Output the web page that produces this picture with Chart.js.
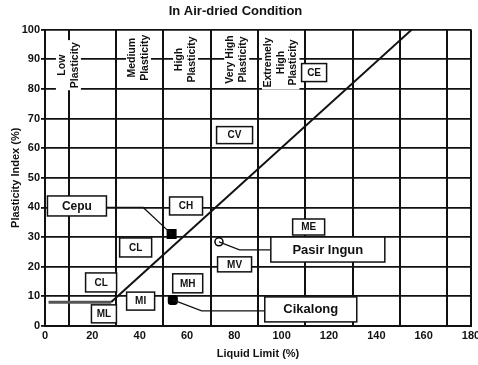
<!DOCTYPE html>
<html><head><meta charset="utf-8">
<script src="https://cdn.jsdelivr.net/npm/chart.js@4/dist/chart.umd.min.js"></script>
<style>html,body{margin:0;padding:0;background:#fff}canvas{display:block}</style>
</head><body>
<canvas id="c" width="478" height="365"></canvas>
<script>
// ---- data ----
const xTickLabels = [0,20,40,60,80,100,120,140,160,180];
const yTickLabels = [0,10,20,30,40,50,60,70,80,90,100];
const xGridLines = [10,30,50,70,90,110,130,150,170,180];
const aLineLL = [28,155];
const aLinePI = [8.1,100];
const bandLL = [1.5,28];
const bandPI = [8,8];
const sampleNames = ['Cepu','Pasir Ingun','Cikalong'];
const sampleLL = [53.5,73.5,54];
const samplePI = [31,28.4,8.8];
const leaderLL = [[26,41.5,53.5],[73.5,82.2,95.3],[54,66.2,92.8]];
const leaderPI = [[40,40,31],[28.4,25.7,25.7],[8.8,5.1,5.1]];
const sampleLabelLL = [13.5,119.5,112.3];
const sampleLabelPI = [40.5,25.8,5.6];
const classNames = ['CE','CV','CH','ME','CL','MV','CL','MH','MI','ML'];
const classLL = [113.7,80.1,59.6,111.4,38.3,80.1,23.7,60.3,40.4,24.9];
const classPI = [85.5,64.4,40.5,33.4,26.5,20.8,14.7,14.4,8.4,4.1];
const zoneNames = [['Low','Plasticity'],['Medium','Plasticity'],['High','Plasticity'],['Very High','Plasticity'],['Extremely','High','Plasticity']];
const zoneLL = [9.9,39.5,59.4,81,99.6];
const zonePI = [88,90.5,89.9,89.9,88.9];

// ---- styles ----
const INK = '#111';
const FONT = '"Liberation Sans", Arial, sans-serif';
const classBoxW = [25,36,33,32,32,34,31,30,28,25];
const classBoxH = [18,17,18,16,19,15,19,19,18,18];
const sampleBoxW = [59,114,92];
const sampleBoxH = [20,25,25];
const sampleFont = [12,13,13];
const markerStyle = ['rect','circle','rectRounded'];
const markerFill = ['#000','#fff','#000'];
const markerRadius = [6,4,5];

Chart.defaults.font.family = FONT;
Chart.defaults.color = INK;

const pts = (xs, ys) => xs.map((x,i)=>({x, y: ys[i]}));

const datasets = [
  {data: pts(aLineLL, aLinePI), showLine:true, borderColor:INK, borderWidth:2, pointRadius:0},
  {data: pts(bandLL, bandPI), showLine:true, borderColor:'#555', borderWidth:3, pointRadius:0},
];
leaderLL.forEach((l,i)=>datasets.push({data: pts(l, leaderPI[i]), showLine:true, borderColor:INK, borderWidth:1.2, pointRadius:0}));
datasets.push({
  data: pts(sampleLL, samplePI), showLine:false,
  pointStyle: markerStyle, pointRadius: markerRadius,
  pointBackgroundColor: markerFill, pointBorderColor: '#000', pointBorderWidth: 1.5
});

function drawBox(ctx, cx, cy, w, h, text, size){
  ctx.fillStyle = '#fff';
  ctx.fillRect(cx-w/2, cy-h/2, w, h);
  ctx.strokeStyle = INK; ctx.lineWidth = 1.5;
  ctx.strokeRect(cx-w/2, cy-h/2, w, h);
  ctx.fillStyle = INK;
  ctx.font = 'bold '+size+'px '+FONT;
  ctx.textAlign = 'center'; ctx.textBaseline = 'middle';
  ctx.fillText(text, cx, cy+0.5);
}

const labelsPlugin = {
  id:'labels',
  afterDatasetsDraw(chart){
    const {ctx, scales:{x,y}} = chart;
    ctx.save();
    const zs = 10.5, lh = 12.5;
    zoneNames.forEach((lines,i)=>{
      const cx = x.getPixelForValue(zoneLL[i]), cy = y.getPixelForValue(zonePI[i]);
      ctx.save();
      ctx.translate(cx, cy);
      ctx.rotate(-Math.PI/2);
      ctx.font = 'bold '+zs+'px '+FONT;
      const w = Math.max(...lines.map(t=>ctx.measureText(t).width));
      const h = lines.length*lh;
      ctx.fillStyle = '#fff';
      ctx.fillRect(-w/2-2, -h/2, w+4, h);
      ctx.fillStyle = INK; ctx.textAlign='center'; ctx.textBaseline='middle';
      lines.forEach((t,k)=>ctx.fillText(t, 0, (k-(lines.length-1)/2)*lh));
      ctx.restore();
    });
    classNames.forEach((t,i)=>{
      drawBox(ctx, x.getPixelForValue(classLL[i]), y.getPixelForValue(classPI[i]), classBoxW[i], classBoxH[i], t, 10);
    });
    sampleNames.forEach((t,i)=>{
      drawBox(ctx, x.getPixelForValue(sampleLabelLL[i]), y.getPixelForValue(sampleLabelPI[i]), sampleBoxW[i], sampleBoxH[i], t, sampleFont[i]);
    });
    ctx.restore();
  }
};

new Chart(document.getElementById('c'), {
  type:'scatter',
  data:{datasets},
  plugins:[labelsPlugin],
  options:{
    responsive:false, animation:false, devicePixelRatio:1,
    layout:{autoPadding:false, padding:{left:0,right:7,top:0,bottom:0}},
    plugins:{
      legend:{display:false}, tooltip:{enabled:false},
      title:{display:true, text:'In Air-dried Condition', color:INK, font:{size:13, weight:'bold'}, padding:{top:4,bottom:10}}
    },
    scales:{
      x:{
        type:'linear', min:0, max:180,
        afterFit(s){ s.height = 39; s.paddingLeft = 0; s.paddingRight = 0; },
        ticks:{stepSize:10, autoSkip:false, maxRotation:0, padding:3, color:INK, font:{size:11, weight:'bold'},
          callback:v => xTickLabels.includes(v) ? String(v) : ''},
        grid:{drawTicks:false, lineWidth:2, color:c => (c.tick && xGridLines.includes(c.tick.value)) ? INK : 'rgba(0,0,0,0)'},
        border:{display:true, color:INK, width:2},
        title:{display:true, text:'Liquid Limit (%)', color:INK, font:{size:11, weight:'bold'}, padding:{top:0,bottom:4.4}}
      },
      y:{
        type:'linear', min:0, max:100,
        afterFit(s){ s.width = 45; s.paddingTop = 0; s.paddingBottom = 0; },
        afterBuildTicks(s){ s.ticks = yTickLabels.map(v=>({value:v})); },
        ticks:{padding:1, color:INK, font:{size:11, weight:'bold'}},
        grid:{color:INK, lineWidth:1.8, tickLength:4},
        border:{display:true, color:INK, width:2},
        title:{display:true, text:'Plasticity Index (%)', color:INK, font:{size:11, weight:'bold'}, padding:{top:9.4,bottom:0}}
      }
    }
  }
});
</script>
</body></html>
